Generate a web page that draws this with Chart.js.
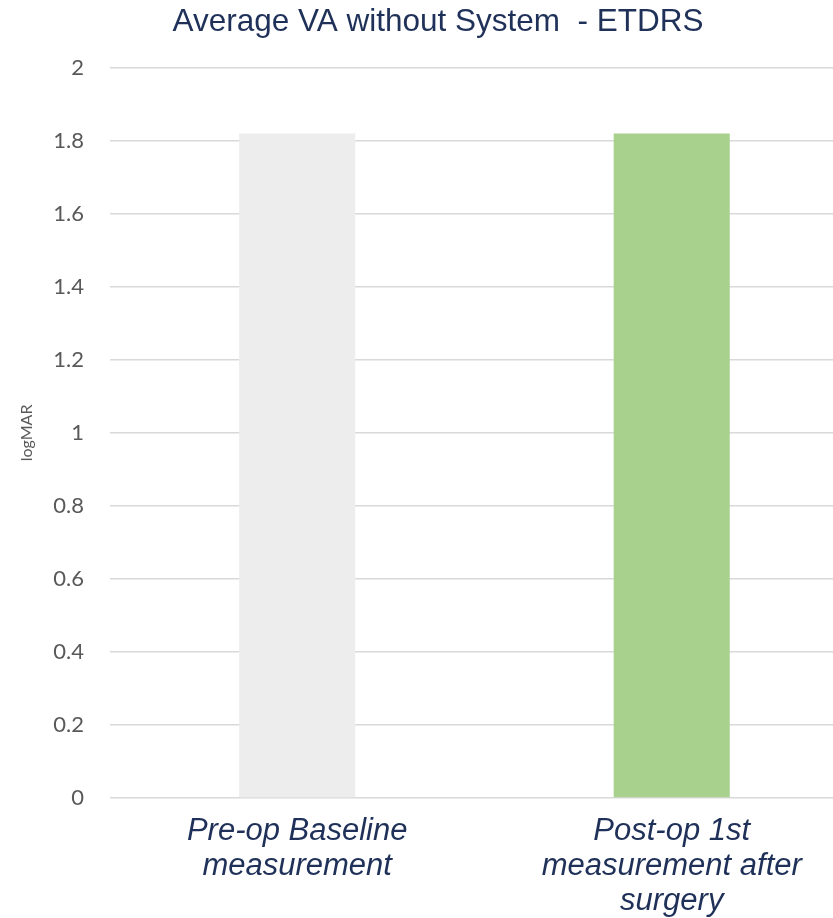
<!DOCTYPE html>
<html>
<head>
<meta charset="utf-8">
<script src="https://cdn.jsdelivr.net/npm/chart.js@4"></script>
<style>
    html, body { margin: 0; padding: 0; background: #fff; overflow: hidden; }
    #wrap { width: 882px; height: 927px; }
</style>
</head>
<body>
<div id="wrap"><canvas id="chart"></canvas></div>
<script>
const categories = [
    ["Pre-op Baseline", "measurement"],
    ["Post-op 1st", "measurement after", "surgery"]
];
const values = [1.82, 1.82];
const barColors = ["#ededed", "#a9d18e"];
const yTicks = [0, 0.2, 0.4, 0.6, 0.8, 1, 1.2, 1.4, 1.6, 1.8, 2];

const sans = "'Liberation Sans', Arial, sans-serif";
const tickFont = "Lato, 'Liberation Sans', sans-serif";

const ctx = document.getElementById("chart").getContext("2d");

new Chart(ctx, {
    type: "bar",
    data: {
        labels: categories,
        datasets: [{
            label: "logMAR",
            data: values,
            backgroundColor: barColors,
            borderWidth: 0,
            categoryPercentage: 1,
            barPercentage: 0.31
        }]
    },
    options: {
        responsive: true,
        maintainAspectRatio: false,
        animation: false,
        layout: { padding: { left: 17, right: 23, top: 0, bottom: 0 } },
        plugins: {
            legend: { display: false },
            tooltip: { enabled: false },
            title: {
                display: true,
                text: "Average VA without System  - ETDRS",
                color: "#1f3158",
                font: { family: sans, size: 31.5, weight: "normal", lineHeight: 1.2 },
                padding: { top: 3, bottom: 27 }
            }
        },
        scales: {
            x: {
                grid: { display: false },
                border: { display: false },
                ticks: {
                    color: "#1f3158",
                    font: { family: sans, size: 31, style: "italic", lineHeight: 1.13 },
                    maxRotation: 0,
                    padding: 8
                }
            },
            y: {
                min: 0,
                max: 2,
                border: { display: false },
                grid: { color: "#d9d9d9", lineWidth: 1.5, drawTicks: false },
                afterBuildTicks: axis => { axis.ticks = yTicks.map(v => ({ value: v })); },
                ticks: {
                    color: "#595959",
                    font: { family: tickFont, size: 22 },
                    padding: 26,
                    callback: v => String(Math.round(v * 10) / 10)
                },
                title: {
                    display: true,
                    text: "logMAR",
                    color: "#595959",
                    font: { family: tickFont, size: 16 },
                    padding: { top: 0, bottom: -9 }
                }
            }
        }
    }
});
</script>
</body>
</html>
